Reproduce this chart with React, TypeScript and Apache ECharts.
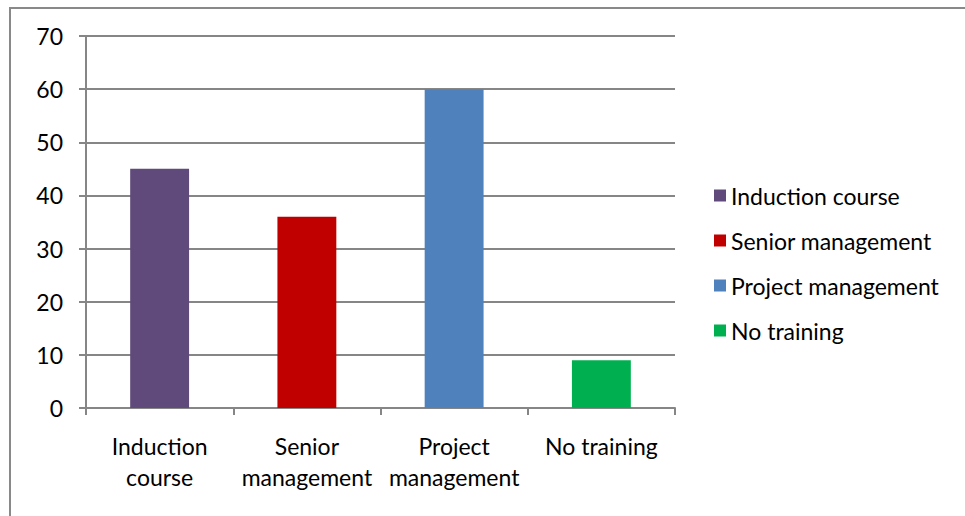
import React, { useEffect, useRef } from "react";
import * as echarts from "echarts";

const categories = ["Induction course", "Senior management", "Project management", "No training"];
const categoryLabels = ["Induction\ncourse", "Senior\nmanagement", "Project\nmanagement", "No training"];
const values = [45, 36, 60, 9];
const colors = ["#604A7B", "#C00000", "#4F81BD", "#00B050"];
const yTicks = [0, 10, 20, 30, 40, 50, 60, 70];

const FONT = "Lato, 'Noto Sans', sans-serif";
const FS = 23;

export default function App() {
  const ref = useRef<HTMLDivElement>(null);
  useEffect(() => {
    document.body.style.margin = "0";
    const chart = echarts.init(ref.current!, null, { renderer: "svg" });
    const series = categories.map((name, i) => ({
      name,
      type: "bar" as const,
      stack: "all",
      barWidth: "40%",
      itemStyle: { color: colors[i] },
      data: categories.map((_, j) => (j === i ? values[i] : null)),
    }));
    chart.setOption({
      animation: false,
      textStyle: { fontFamily: FONT },
      graphic: [
        {
          type: "polyline",
          shape: { points: [[10, 520], [10, 8], [965, 8]] },
          style: { stroke: "#898989", lineWidth: 2, fill: "none" },
        },
      ],
      grid: { left: 86, top: 36, width: 589, height: 372 },
      legend: {
        orient: "vertical",
        left: 714,
        top: 184,
        padding: 0,
        itemWidth: 12,
        itemHeight: 12,
        itemGap: 22,
        icon: "rect",
        textStyle: { fontSize: FS, color: "#000", fontFamily: FONT },
        data: categories,
      },
      xAxis: {
        type: "category",
        data: categories,
        axisLine: { lineStyle: { color: "#868686", width: 2 } },
        axisTick: { show: true, length: 7, lineStyle: { color: "#868686", width: 2 } },
        axisLabel: {
          interval: 0,
          margin: 22,
          fontSize: FS,
          lineHeight: 31,
          color: "#000",
          fontFamily: FONT,
          formatter: (v: string) => categoryLabels[categories.indexOf(v)],
        },
      },
      yAxis: {
        type: "value",
        min: yTicks[0],
        max: yTicks[yTicks.length - 1],
        interval: 10,
        axisLine: { show: true, lineStyle: { color: "#868686", width: 2 } },
        axisTick: { show: true, length: 7, lineStyle: { color: "#868686", width: 2 } },
        splitLine: { lineStyle: { color: "#868686", width: 2 } },
        axisLabel: { fontSize: FS, color: "#000", margin: 23, fontFamily: FONT },
      },
      series,
    });
    return () => chart.dispose();
  }, []);
  return <div ref={ref} style={{ width: 965, height: 516 }} />;
}
